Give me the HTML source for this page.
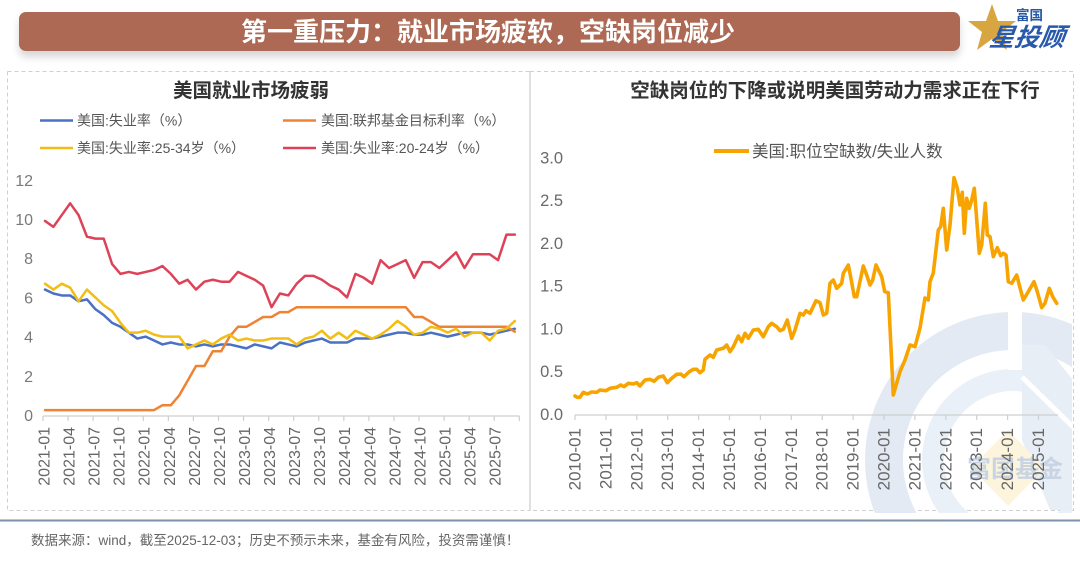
<!DOCTYPE html>
<html>
<head>
<meta charset="utf-8">
<style>
  html,body{margin:0;padding:0;background:#fff;}
  body{width:1080px;height:564px;overflow:hidden;position:relative;font-family:"Liberation Sans","Noto Sans CJK SC",sans-serif;}
  .banner{position:absolute;left:19px;top:12px;width:941px;height:39px;background:#ad6953;border-radius:7px;box-shadow:0 6px 8px rgba(0,0,0,0.16);}
  .banner span{position:absolute;left:222px;top:2px;font-size:26px;line-height:34px;font-weight:bold;color:#fff;letter-spacing:0px;white-space:nowrap;font-family:"Noto Sans CJK SC","WenQuanYi Zen Hei",sans-serif;}
  svg{position:absolute;left:0;top:0;}
</style>
</head>
<body>
<div class="banner"><span>第一重压力：就业市场疲软，空缺岗位减少</span></div>
<svg width="1080" height="564" viewBox="0 0 1080 564" xmlns="http://www.w3.org/2000/svg" font-family="Liberation Sans, Noto Sans CJK SC, sans-serif">
  <defs>
    <clipPath id="rp"><rect x="531" y="72" width="541" height="441"/></clipPath>
  </defs>

  <!-- logo -->
  <polygon points="992,4 998,21 1016,21 1002,32 1007,50 992,39 977,50 982,32 968,21 986,21" fill="#d8a640"/>
  <text x="1016" y="20" font-size="13.5" font-weight="bold" fill="#2556a6" font-family="Noto Sans CJK SC, sans-serif">富国</text>
  <text x="989" y="46" font-size="25" font-weight="bold" fill="#2859aa" font-style="italic" font-family="Noto Sans CJK SC, sans-serif" transform="skewX(-8) translate(6,0)">星投顾</text>

  <!-- panel borders -->
  <path d="M7.5,71.5 H530 M7.5,71.5 V510.5 H530 M530,71.5 H1073.5 V510.5 H530" fill="none" stroke="#cfcfcf" stroke-width="1" stroke-dasharray="4,3"/>
  <line x1="530" y1="71" x2="530" y2="511" stroke="#d6d6d6" stroke-width="1.5"/>
  <line x1="0" y1="520.5" x2="1080" y2="520.5" stroke="#7e92a9" stroke-width="2"/>

  <!-- watermark -->
  <g clip-path="url(#rp)">
    <circle cx="1013" cy="460" r="129" fill="none" stroke="#e3eaf3" stroke-width="38"/>
    <circle cx="1013" cy="460" r="80" fill="none" stroke="#eaf0f7" stroke-width="22"/>
    <rect x="1008" y="300" width="14" height="70" fill="#fff"/>
    <polygon points="1022,345 1045,345 1073,380 1073,510 1050,510 1022,440" fill="#e8eef6"/>
    <line x1="1022" y1="377" x2="1073" y2="427" stroke="#fff" stroke-width="5"/>
    <polygon points="1008,430 1045,468 1008,506 971,468" fill="#fcf4dc"/>
    <text x="967" y="477" font-size="24" font-weight="bold" fill="#c8d4e4" font-family="Noto Sans CJK SC, sans-serif">富国基金</text>
  </g>

  <!-- titles -->
  <text x="251" y="97" font-size="19.5" font-weight="bold" fill="#333" text-anchor="middle" font-family="Noto Sans CJK SC, sans-serif">美国就业市场疲弱</text>
  <text x="835" y="97" font-size="19.5" font-weight="bold" fill="#333" text-anchor="middle" font-family="Noto Sans CJK SC, sans-serif">空缺岗位的下降或说明美国劳动力需求正在下行</text>

  <!-- left legend -->
  <g font-size="14" fill="#555">
    <line x1="40" y1="120.5" x2="73" y2="120.5" stroke="#4a72c4" stroke-width="2.5"/>
    <text x="77" y="125.5">美国:失业率（%）</text>
    <line x1="283" y1="120.5" x2="316" y2="120.5" stroke="#ee8433" stroke-width="2.5"/>
    <text x="321" y="125.5">美国:联邦基金目标利率（%）</text>
    <line x1="40" y1="148" x2="73" y2="148" stroke="#f2bd14" stroke-width="2.5"/>
    <text x="77" y="153">美国:失业率:25-34岁（%）</text>
    <line x1="283" y1="148" x2="316" y2="148" stroke="#dd4358" stroke-width="2.5"/>
    <text x="321" y="153">美国:失业率:20-24岁（%）</text>
  </g>

  <!-- right legend -->
  <line x1="714" y1="151" x2="749" y2="151" stroke="#f7a400" stroke-width="4"/>
  <text x="752" y="157" font-size="16.5" fill="#555">美国:职位空缺数/失业人数</text>

  <!-- left y labels -->
  <g font-size="16" fill="#7a7a7a" text-anchor="end">
    <text x="33" y="421">0</text>
    <text x="33" y="381.8">2</text>
    <text x="33" y="342.6">4</text>
    <text x="33" y="303.4">6</text>
    <text x="33" y="264.2">8</text>
    <text x="33" y="225">10</text>
    <text x="33" y="185.8">12</text>
  </g>

  <!-- left axis -->
  <line x1="43" y1="416" x2="519.5" y2="416" stroke="#cfcfcf" stroke-width="1.2"/>
  <path d="M43,416v5M68.07,416v5M93.14,416v5M118.21,416v5M143.28,416v5M168.35,416v5M193.42,416v5M218.49,416v5M243.56,416v5M268.63,416v5M293.7,416v5M318.77,416v5M343.84,416v5M368.91,416v5M393.98,416v5M419.05,416v5M444.12,416v5M469.19,416v5M494.26,416v5M519.33,416v5" stroke="#cfcfcf" stroke-width="1.2"/>

  <g font-size="16" fill="#666" text-anchor="end" dominant-baseline="central">
    <text transform="translate(45,427) rotate(-90)">2021-01</text>
    <text transform="translate(70.06,427) rotate(-90)">2021-04</text>
    <text transform="translate(95.12,427) rotate(-90)">2021-07</text>
    <text transform="translate(120.18,427) rotate(-90)">2021-10</text>
    <text transform="translate(145.24,427) rotate(-90)">2022-01</text>
    <text transform="translate(170.3,427) rotate(-90)">2022-04</text>
    <text transform="translate(195.36,427) rotate(-90)">2022-07</text>
    <text transform="translate(220.42,427) rotate(-90)">2022-10</text>
    <text transform="translate(245.48,427) rotate(-90)">2023-01</text>
    <text transform="translate(270.54,427) rotate(-90)">2023-04</text>
    <text transform="translate(295.6,427) rotate(-90)">2023-07</text>
    <text transform="translate(320.66,427) rotate(-90)">2023-10</text>
    <text transform="translate(345.72,427) rotate(-90)">2024-01</text>
    <text transform="translate(370.78,427) rotate(-90)">2024-04</text>
    <text transform="translate(395.84,427) rotate(-90)">2024-07</text>
    <text transform="translate(420.9,427) rotate(-90)">2024-10</text>
    <text transform="translate(445.96,427) rotate(-90)">2025-01</text>
    <text transform="translate(471.02,427) rotate(-90)">2025-04</text>
    <text transform="translate(496.08,427) rotate(-90)">2025-07</text>
  </g>

  <!-- left series -->
  <g transform="translate(45 415) scale(8.39 -19.6)" fill="none" stroke-linejoin="round" stroke-linecap="round">
    <polyline vector-effect="non-scaling-stroke" stroke="#4a72c4" stroke-width="2.5" points="0,6.4 1,6.2 2,6.1 3,6.1 4,5.8 5,5.9 6,5.4 7,5.1 8,4.7 9,4.5 10,4.2 11,3.9 12,4.0 13,3.8 14,3.6 15,3.7 16,3.6 17,3.6 18,3.5 19,3.6 20,3.5 21,3.6 22,3.6 23,3.5 24,3.4 25,3.6 26,3.5 27,3.4 28,3.7 29,3.6 30,3.5 31,3.7 32,3.8 33,3.9 34,3.7 35,3.7 36,3.7 37,3.9 38,3.9 39,3.9 40,4.0 41,4.1 42,4.2 43,4.2 44,4.1 45,4.1 46,4.2 47,4.1 48,4.0 49,4.1 50,4.2 51,4.2 52,4.2 53,4.1 54,4.2 55,4.3 56,4.4"/>
    <polyline vector-effect="non-scaling-stroke" stroke="#ee8433" stroke-width="2.5" points="0,0.25 13,0.25 14,0.5 15,0.5 16,1.0 17,1.75 18,2.5 19,2.5 20,3.25 21,3.25 22,4.0 23,4.5 24,4.5 25,4.75 26,5.0 27,5.0 28,5.25 29,5.25 30,5.5 43,5.5 44,5.0 45,5.0 46,4.75 47,4.5 55,4.5 56,4.25"/>
    <polyline vector-effect="non-scaling-stroke" stroke="#f2bd14" stroke-width="2.5" points="0,6.7 1,6.4 2,6.7 3,6.5 4,5.8 5,6.4 6,6.0 7,5.6 8,5.3 9,4.7 10,4.2 11,4.2 12,4.3 13,4.1 14,4.0 15,4.0 16,4.0 17,3.4 18,3.6 19,3.8 20,3.6 21,3.9 22,4.1 23,3.8 24,3.9 25,3.8 26,3.8 27,3.9 28,3.9 29,3.9 30,3.6 31,3.9 32,4.0 33,4.3 34,3.9 35,4.2 36,3.9 37,4.3 38,4.1 39,3.9 40,4.1 41,4.4 42,4.8 43,4.5 44,4.1 45,4.2 46,4.5 47,4.4 48,4.2 49,4.4 50,4.0 51,4.2 52,4.2 53,3.8 54,4.3 55,4.4 56,4.8"/>
    <polyline vector-effect="non-scaling-stroke" stroke="#dd4358" stroke-width="2.5" points="0,9.9 1,9.6 2,10.2 3,10.8 4,10.2 5,9.1 6,9.0 7,9.0 8,7.7 9,7.2 10,7.3 11,7.2 12,7.3 13,7.4 14,7.6 15,7.2 16,6.7 17,6.9 18,6.4 19,6.8 20,6.9 21,6.8 22,6.8 23,7.3 24,7.1 25,6.9 26,6.6 27,5.5 28,6.2 29,6.1 30,6.7 31,7.1 32,7.1 33,6.9 34,6.6 35,6.4 36,6.0 37,7.2 38,7.0 39,6.7 40,7.9 41,7.5 42,7.7 43,7.9 44,7.0 45,7.8 46,7.8 47,7.5 48,7.9 49,8.3 50,7.5 51,8.2 52,8.2 53,8.2 54,7.9 55,9.2 56,9.2"/>
  </g>

  <!-- right y labels -->
  <g font-size="16.5" fill="#6a6a6a" text-anchor="end">
    <text x="563" y="420">0.0</text>
    <text x="563" y="377.2">0.5</text>
    <text x="563" y="334.5">1.0</text>
    <text x="563" y="291.7">1.5</text>
    <text x="563" y="249">2.0</text>
    <text x="563" y="206.2">2.5</text>
    <text x="563" y="163.3">3.0</text>
  </g>

  <!-- right axis -->
  <line x1="575" y1="415" x2="1058" y2="415" stroke="#cfcfcf" stroke-width="1.2"/>
  <path d="M575,415v5M605.9,415v5M636.8,415v5M667.7,415v5M698.6,415v5M729.5,415v5M760.4,415v5M791.3,415v5M822.2,415v5M853.1,415v5M884,415v5M914.9,415v5M945.8,415v5M976.7,415v5M1007.6,415v5M1038.5,415v5" stroke="#cfcfcf" stroke-width="1.2"/>
  <g font-size="17" fill="#666" text-anchor="end" dominant-baseline="central">
    <text transform="translate(575,428) rotate(-90)">2010-01</text>
    <text transform="translate(605.9,428) rotate(-90)">2011-01</text>
    <text transform="translate(636.8,428) rotate(-90)">2012-01</text>
    <text transform="translate(667.7,428) rotate(-90)">2013-01</text>
    <text transform="translate(698.6,428) rotate(-90)">2014-01</text>
    <text transform="translate(729.5,428) rotate(-90)">2015-01</text>
    <text transform="translate(760.4,428) rotate(-90)">2016-01</text>
    <text transform="translate(791.3,428) rotate(-90)">2017-01</text>
    <text transform="translate(822.2,428) rotate(-90)">2018-01</text>
    <text transform="translate(853.1,428) rotate(-90)">2019-01</text>
    <text transform="translate(884,428) rotate(-90)">2020-01</text>
    <text transform="translate(914.9,428) rotate(-90)">2021-01</text>
    <text transform="translate(945.8,428) rotate(-90)">2022-01</text>
    <text transform="translate(976.7,428) rotate(-90)">2023-01</text>
    <text transform="translate(1007.6,428) rotate(-90)">2024-01</text>
    <text transform="translate(1038.5,428) rotate(-90)">2025-01</text>
  </g>

  <!-- right series -->
  <polyline fill="none" stroke="#f7a400" stroke-width="3.6" stroke-linejoin="round" stroke-linecap="round" points="575,396 577.3,397.3 580,397.3 583.3,392.3 587.3,394 591.7,392 596.7,392.3 600,390 606,390.7 610,388.3 616.7,387.3 620.7,385 624,386.7 628.3,383.3 633.3,384 636.7,382.7 640,386 645,380 650,379.3 654,381.3 658.3,377.3 663.3,376 667.3,382.7 671.7,378.3 676.7,374.3 680.7,374 684,376.7 689.3,371.7 693.3,369.3 696.7,369.3 700,372.7 703.3,370 705,359.3 710,355 713.3,357.3 716.7,350 723.3,348.3 726.7,345 730,351.7 733.3,346.7 738.3,336 741.7,341.7 745,333.3 748.3,338.3 753.3,330 758.3,329.3 763.3,336.7 768.3,326.7 771.7,323.3 776.7,326.7 780,330.7 783.3,329.3 787.3,320 791.7,338.3 795,330 800,313.3 803.3,315 806,310.7 810,313.3 816,300.7 820,302.7 823.3,315 826.7,313.3 830,283.3 833.3,280 836.7,288.3 841.7,283.3 843.3,273.3 848.3,265 850,273.3 854.3,296.7 856.7,296.7 863.3,266 866.7,275 870,285 872.7,280 876,265 881.7,276.7 884.7,291.7 888.3,292.7 893.3,395 900,371.7 905,360 910,345 915,346.7 920,328 925,298 928.3,300 930,281.7 933.3,273 938.3,230 940.7,226.7 943.3,208.3 946.7,250 950,225 954,177.7 957.3,188.3 960,205 962.3,192.3 964.3,233.3 966.7,198.3 969.3,208.3 971.7,200 974.3,188.3 979.3,253.3 981.7,245 985.3,203.3 987.3,235 990,236.7 993.3,256.7 997.3,247.7 1000.7,255.7 1003.3,253.3 1006,255 1008.3,281.7 1011.7,283.3 1016.7,275 1019.3,285 1023.3,300 1028.3,291.7 1034,281.7 1037.3,291.7 1041.7,307.7 1045,303.3 1049.3,288.3 1052.7,296.7 1056.7,303.3"/>

  <!-- footer -->
  <text x="31" y="545" font-size="13.5" fill="#666">数据来源：wind，截至2025-12-03；历史不预示未来，基金有风险，投资需谨慎！</text>
</svg>
</body>
</html>
